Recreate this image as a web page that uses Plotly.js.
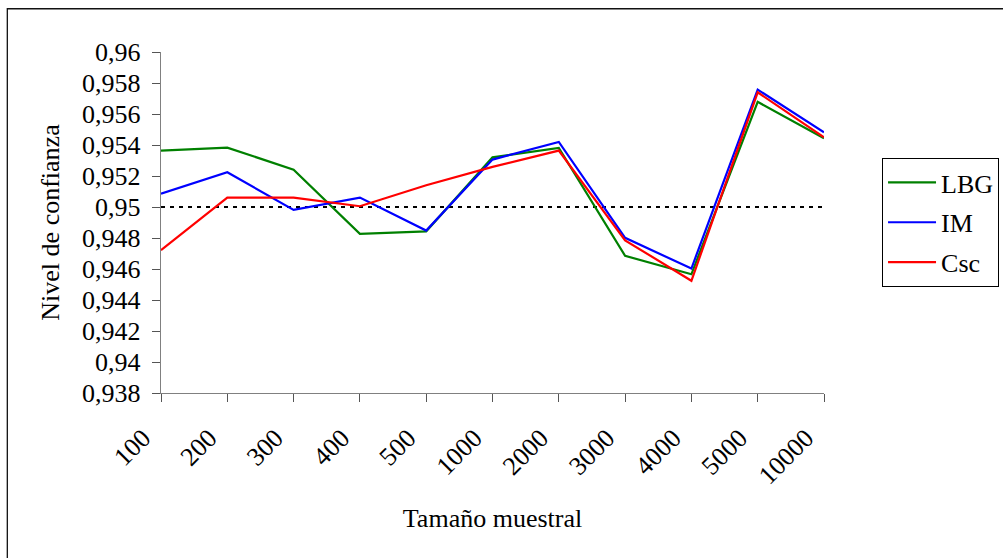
<!DOCTYPE html>
<html>
<head>
<meta charset="utf-8">
<script src="https://cdn.plot.ly/plotly-3.0.1.min.js"></script>
<style>
  html, body { margin: 0; padding: 0; background: #fff; }
  #chart { width: 1003px; height: 558px; }
</style>
</head>
<body>
<div id="chart"></div>
<script>
// Categories (sample size)
const categories = ["100", "200", "300", "400", "500", "1000", "2000", "3000", "4000", "5000", "10000"];
// Series values (confidence level)
const lbg = [0.95364, 0.95383, 0.95241, 0.94827, 0.94843, 0.95320, 0.95381, 0.94685, 0.94566, 0.95678, 0.95443];
const im  = [0.95086, 0.95224, 0.94981, 0.95061, 0.94848, 0.95306, 0.95420, 0.94801, 0.94603, 0.95757, 0.95482];
const csc = [0.94721, 0.95061, 0.95061, 0.95005, 0.95140, 0.95259, 0.95364, 0.94785, 0.94524, 0.95740, 0.95450];
// Nominal level reference line
const nominal = 0.95;
// Y tick values and labels
const yTickVals = [0.938, 0.94, 0.942, 0.944, 0.946, 0.948, 0.95, 0.952, 0.954, 0.956, 0.958, 0.96];
const yTickText = ["0,938", "0,94", "0,942", "0,944", "0,946", "0,948", "0,95", "0,952", "0,954", "0,956", "0,958", "0,96"];

const font = { family: "Liberation Serif", size: 26, color: "#000" };

const traces = [
  { name: "LBG", y: lbg, color: "#008000" },
  { name: "IM",  y: im,  color: "#0000FF" },
  { name: "Csc", y: csc, color: "#FF0000" }
].map(s => ({
  type: "scatter",
  mode: "lines",
  x: categories,
  y: s.y,
  name: s.name,
  legendgroup: s.name,
  line: { color: s.color, width: 2.2 }
}));

const layout = {
  width: 1003,
  height: 558,
  margin: { l: 161, r: 179, t: 52, b: 164.5, autoexpand: false },
  paper_bgcolor: "#fff",
  plot_bgcolor: "#fff",
  font: font,
  showlegend: true,
  legend: {
    xref: "container", yref: "container",
    x: 0.8794, y: 0.7168, xanchor: "left", yanchor: "top",
    bordercolor: "#000", borderwidth: 1,
    font: font,
    traceorder: "grouped",
    tracegroupgap: 3,
    itemwidth: 48
  },
  xaxis: {
    type: "category",
    range: [0, categories.length - 1],
    showgrid: false,
    zeroline: false,
    showline: true,
    linecolor: "#808080",
    linewidth: 1.3,
    ticks: "outside",
    ticklen: 8,
    tickcolor: "#555",
    tickangle: -45,
    tickfont: font,
    ticklabelstandoff: 10,
    ticklabelshift: -18,
    automargin: false,
    title: { text: "Tamaño muestral", font: font, standoff: 20 }
  },
  yaxis: {
    range: [0.938, 0.96],
    tickvals: yTickVals,
    ticktext: yTickText,
    showgrid: false,
    zeroline: false,
    showline: true,
    linecolor: "#808080",
    linewidth: 1.3,
    ticks: "outside",
    ticklen: 8,
    tickcolor: "#555",
    tickfont: font,
    ticklabelstandoff: 6,
    automargin: false,
    title: { text: "Nivel de confianza", font: font, standoff: 15 }
  },
  shapes: [
    {
      type: "line", xref: "paper", yref: "y",
      x0: 0, x1: 1, y0: nominal, y1: nominal,
      line: { color: "#000", width: 2, dash: "4px,5px" },
      layer: "below"
    },
    {
      type: "rect", xref: "paper", yref: "paper",
      x0: -0.2318, x1: 2, y0: -2, y1: 1.1269,
      line: { color: "#111", width: 1.3 },
      fillcolor: "rgba(0,0,0,0)"
    }
  ]
};

Plotly.newPlot("chart", traces, layout, { staticPlot: true, displayModeBar: false });
</script>
</body>
</html>
